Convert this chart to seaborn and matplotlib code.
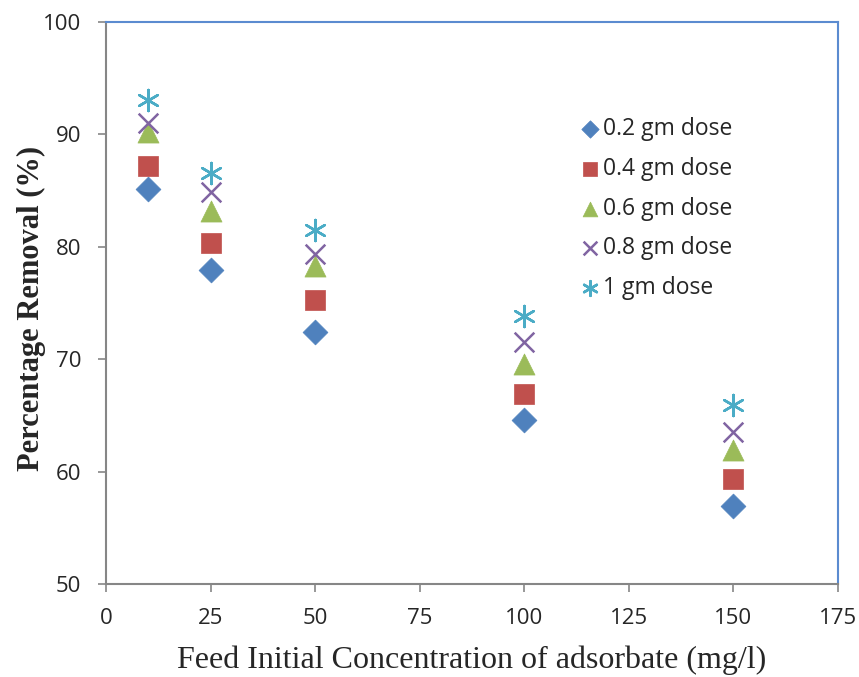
import numpy as np
import pandas as pd
import matplotlib
matplotlib.use('Agg')
import matplotlib.pyplot as plt
import seaborn as sns

# Data
concentration = [10, 25, 50, 100, 150]
dose_labels = ['0.2 gm dose', '0.4 gm dose', '0.6 gm dose', '0.8 gm dose', '1 gm dose']
removal_02 = [85.1, 77.9, 72.4, 64.6, 56.9]
removal_04 = [87.2, 80.3, 75.3, 66.9, 59.3]
removal_06 = [90.2, 83.2, 78.3, 69.6, 61.9]
removal_08 = [91.0, 84.9, 79.4, 71.5, 63.5]
removal_10 = [93.1, 86.6, 81.5, 73.8, 65.9]

series = [removal_02, removal_04, removal_06, removal_08, removal_10]
colors = ['#4F81BD', '#C0504D', '#9BBB59', '#8064A2', '#4BACC6']
markers = ['D', 's', '^', 'x', (6, 2, 0)]
sizes = [160, 190, 230, 200, 230]

sns.set_style('white')
plt.rcParams['font.family'] = ['Open Sans', 'DejaVu Sans']

fig = plt.figure(figsize=(8.59, 6.77), dpi=100)
ax = fig.add_axes([0.1234, 0.1374, 0.8522, 0.8301])

for label, vals, c, m, s in zip(dose_labels, series, colors, markers, sizes):
    df = pd.DataFrame({'conc': concentration, 'removal': vals})
    if m in ('x', (6, 2, 0)):
        sns.scatterplot(data=df, x='conc', y='removal', ax=ax, marker=m, s=s,
                        color=c, linewidth=1.8, label=label)
    else:
        sns.scatterplot(data=df, x='conc', y='removal', ax=ax, marker=m, s=s,
                        color=c, edgecolor=c, linewidth=0.5, label=label)

ax.set_xlim(0, 175)
ax.set_ylim(50, 100)
ax.set_xticks(np.arange(0, 176, 25))
ax.set_yticks(np.arange(50, 101, 10))
ax.tick_params(axis='both', direction='out', length=6, width=1.2, color='#868686',
               labelsize=16, left=True, bottom=True)
ax.tick_params(axis='x', pad=11)
ax.tick_params(axis='y', pad=12)

for side in ['left', 'bottom']:
    ax.spines[side].set_color('#868686')
    ax.spines[side].set_linewidth(1.5)
for side in ['top', 'right']:
    ax.spines[side].set_color('#5B8BD0')
    ax.spines[side].set_linewidth(1.5)

ax.set_xlabel('Feed Initial Concentration of adsorbate (mg/l)', fontsize=23,
              family='Liberation Serif', labelpad=12)
ax.set_ylabel('Percentage Removal (%)', fontsize=22, family='Liberation Serif',
              fontweight='bold')
ax.yaxis.set_label_coords(-0.082, 0.49)

leg = ax.legend(loc='upper left', bbox_to_anchor=(0.645, 0.831), frameon=False,
                fontsize=16.5, handletextpad=0.1, handlelength=1.0, labelspacing=0.69,
                borderpad=0, borderaxespad=0, markerscale=0.7)

fig.savefig('out.png', dpi=100)
